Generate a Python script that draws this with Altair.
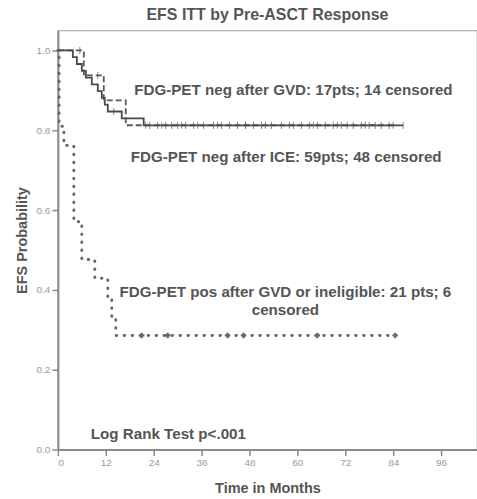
import altair as alt
import pandas as pd

# Kaplan-Meier step curves (time in months, survival probability)
ice_t = [0, 3.75, 4.75, 6, 7, 8.5, 10, 11, 11.75, 12.5, 16, 21.5, 86.5]
ice_s = [1.0, 0.983, 0.966, 0.949, 0.932, 0.915, 0.898, 0.881, 0.864, 0.847, 0.83, 0.812, 0.812]
gvd_t = [0, 6.5, 11.5, 17, 84]
gvd_s = [1.0, 0.9375, 0.875, 0.8125, 0.8125]
pos_t = [0, 0.3, 1.5, 4, 6, 9.25, 12.5, 13.5, 14.5, 84.5]
pos_s = [1.0, 0.81, 0.762, 0.571, 0.476, 0.429, 0.381, 0.333, 0.286, 0.286]

# censored observations
ice_ct = [14, 23, 25, 27, 28.5, 30, 32, 34, 36.5, 39, 41, 43, 45, 47, 49, 51, 53.5, 56,
          59, 61, 63, 65, 67, 69, 71, 72.5, 74, 76, 78, 79.5, 81, 83, 86.5]
ice_cs = [0.847] + [0.812] * 32
gvd_ct = [5.5, 10, 22, 26, 31, 35, 40, 47, 52, 58, 64, 70, 77, 84]
gvd_cs = [1.0, 0.9375] + [0.8125] * 12
pos_ct = [21, 27.5, 42.5, 46.5, 65, 84.5]
pos_cs = [0.286] * 6

x_ticks = [0, 12, 24, 36, 48, 60, 72, 84, 96]
y_ticks = [0.0, 0.2, 0.4, 0.6, 0.8, 1.0]

ann_text = ["FDG-PET neg after GVD: 17pts; 14 censored",
            "FDG-PET neg after ICE: 59pts; 48 censored",
            "FDG-PET pos after GVD or ineligible: 21 pts; 6",
            "censored"]
ann_x = [59, 57.2, 57, 57]
ann_y = [0.90, 0.7325, 0.395, 0.35]

FONT = "Liberation Sans"
GRAY = "#555555"

xs = alt.Scale(domain=[0, 105], nice=False, zero=False)
ys = alt.Scale(domain=[0, 1.05], nice=False)

def X(f="t"):
    return alt.X(f"{f}:Q", scale=xs,
                 axis=alt.Axis(values=x_ticks, title="Time in Months", format="d",
                               titlePadding=14))

def Y(f="s"):
    return alt.Y(f"{f}:Q", scale=ys,
                 axis=alt.Axis(values=y_ticks, title="EFS Probability", format=".1f",
                               titlePadding=7))

ice = pd.DataFrame({"t": ice_t, "s": ice_s})
gvd = pd.DataFrame({"t": gvd_t, "s": gvd_s})
pos = pd.DataFrame({"t": pos_t, "s": pos_s})

l_ice = alt.Chart(ice).mark_line(interpolate="step-after", color="#4a4a4a",
                                 strokeWidth=1.8).encode(x=X(), y=Y())
l_gvd = alt.Chart(gvd).mark_line(interpolate="step-after", color="#5a5a5a",
                                 strokeWidth=1.8, strokeDash=[6, 3]).encode(x=X(), y=Y())
l_pos = alt.Chart(pos).mark_line(interpolate="step-after", color="#6a6a6a",
                                 strokeWidth=3, strokeDash=[0.5, 7.5],
                                 strokeCap="round").encode(x=X(), y=Y())

c_ice = alt.Chart(pd.DataFrame({"t": ice_ct, "s": ice_cs})).mark_tick(
    orient="vertical", size=7, thickness=1, color="#555").encode(x=X(), y=Y())
c_gvd = alt.Chart(pd.DataFrame({"t": gvd_ct, "s": gvd_cs})).mark_tick(
    orient="vertical", size=7, thickness=1, color="#555").encode(x=X(), y=Y())
c_pos = alt.Chart(pd.DataFrame({"t": pos_ct, "s": pos_cs})).mark_point(
    shape="cross", filled=True, size=30, color="#666", opacity=1).encode(x=X(), y=Y())

ann = alt.Chart(pd.DataFrame({"t": ann_x, "s": ann_y, "txt": ann_text})).mark_text(
    font=FONT, fontSize=15.2, fontWeight="bold", color=GRAY, align="center",
    baseline="middle").encode(x=X(), y=Y(), text="txt:N")

logrank = alt.Chart(pd.DataFrame({"t": [8.25], "s": [0.04], "txt": ["Log Rank Test p<.001"]})
                    ).mark_text(font=FONT, fontSize=15.2, fontWeight="bold", color=GRAY,
                                align="left", baseline="middle").encode(x=X(), y=Y(), text="txt:N")

chart = alt.layer(l_pos, l_gvd, l_ice, c_pos, c_gvd, c_ice, ann, logrank).properties(
    width=420, height=420,
    title=alt.Title("EFS ITT by Pre-ASCT Response", fontSize=16, fontWeight="bold",
                    color=GRAY, font=FONT, offset=7, anchor="middle"),
    padding={"left": 58, "top": 30, "right": 0, "bottom": 48},
    autosize="none",
).configure_view(stroke="#9a9a9a", strokeWidth=1.2).configure_axis(
    grid=False, domainColor="#8a8a8a", domainWidth=2, tickColor="#8a8a8a",
    tickSize=6, tickWidth=1.5, labelColor="#9a9a9a", labelFont=FONT, labelFontSize=10,
    labelPadding=2, titleFont=FONT, titleFontSize=14.5, titleFontWeight="bold",
    titleColor=GRAY
)

chart.save("out.html", embed_options={"renderer": "svg", "actions": False})
